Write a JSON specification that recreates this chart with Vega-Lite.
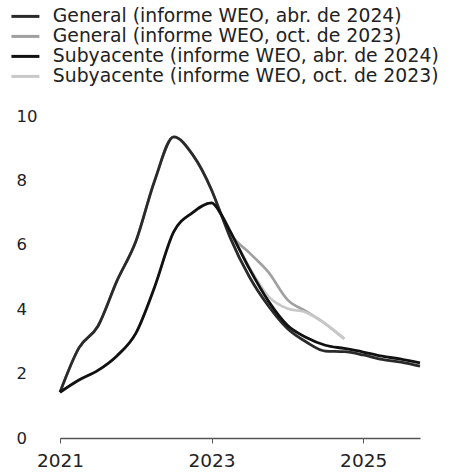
{
  "$schema": "https://vega.github.io/schema/vega-lite/v6.json",
  "width": 360,
  "height": 322,
  "autosize": {"type": "none"},
  "padding": {"left": 60, "top": 116, "right": 30, "bottom": 34},
  "background": "white",
  "config": {
    "view": {"stroke": null},
    "font": "DejaVu Sans",
    "axis": {"labelFont": "DejaVu Sans", "labelColor": "#222222"},
    "legend": {"labelFont": "DejaVu Sans", "labelColor": "#222222"}
  },
  "data": {
    "values": [
      {"t": 2021.0, "serie": "General (informe WEO, abr. de 2024)", "v": 1.42},
      {"t": 2021.25, "serie": "General (informe WEO, abr. de 2024)", "v": 2.8},
      {"t": 2021.5, "serie": "General (informe WEO, abr. de 2024)", "v": 3.47},
      {"t": 2021.75, "serie": "General (informe WEO, abr. de 2024)", "v": 4.87},
      {"t": 2022.0, "serie": "General (informe WEO, abr. de 2024)", "v": 6.1},
      {"t": 2022.25, "serie": "General (informe WEO, abr. de 2024)", "v": 8.0},
      {"t": 2022.5, "serie": "General (informe WEO, abr. de 2024)", "v": 9.35},
      {"t": 2022.75, "serie": "General (informe WEO, abr. de 2024)", "v": 8.8},
      {"t": 2023.0, "serie": "General (informe WEO, abr. de 2024)", "v": 7.7},
      {"t": 2023.125, "serie": "General (informe WEO, abr. de 2024)", "v": 6.95},
      {"t": 2023.25, "serie": "General (informe WEO, abr. de 2024)", "v": 6.2},
      {"t": 2023.5, "serie": "General (informe WEO, abr. de 2024)", "v": 5.0},
      {"t": 2023.75, "serie": "General (informe WEO, abr. de 2024)", "v": 4.1},
      {"t": 2024.0, "serie": "General (informe WEO, abr. de 2024)", "v": 3.4},
      {"t": 2024.25, "serie": "General (informe WEO, abr. de 2024)", "v": 2.98},
      {"t": 2024.5, "serie": "General (informe WEO, abr. de 2024)", "v": 2.7},
      {"t": 2024.75, "serie": "General (informe WEO, abr. de 2024)", "v": 2.68},
      {"t": 2025.0, "serie": "General (informe WEO, abr. de 2024)", "v": 2.58},
      {"t": 2025.25, "serie": "General (informe WEO, abr. de 2024)", "v": 2.44},
      {"t": 2025.5, "serie": "General (informe WEO, abr. de 2024)", "v": 2.36},
      {"t": 2025.75, "serie": "General (informe WEO, abr. de 2024)", "v": 2.23},

      {"t": 2021.0, "serie": "Subyacente (informe WEO, abr. de 2024)", "v": 1.42},
      {"t": 2021.25, "serie": "Subyacente (informe WEO, abr. de 2024)", "v": 1.8},
      {"t": 2021.5, "serie": "Subyacente (informe WEO, abr. de 2024)", "v": 2.1},
      {"t": 2021.75, "serie": "Subyacente (informe WEO, abr. de 2024)", "v": 2.55},
      {"t": 2022.0, "serie": "Subyacente (informe WEO, abr. de 2024)", "v": 3.25},
      {"t": 2022.25, "serie": "Subyacente (informe WEO, abr. de 2024)", "v": 4.7},
      {"t": 2022.5, "serie": "Subyacente (informe WEO, abr. de 2024)", "v": 6.4},
      {"t": 2022.75, "serie": "Subyacente (informe WEO, abr. de 2024)", "v": 7.0},
      {"t": 2023.0, "serie": "Subyacente (informe WEO, abr. de 2024)", "v": 7.3},
      {"t": 2023.125, "serie": "Subyacente (informe WEO, abr. de 2024)", "v": 6.95},
      {"t": 2023.25, "serie": "Subyacente (informe WEO, abr. de 2024)", "v": 6.4},
      {"t": 2023.5, "serie": "Subyacente (informe WEO, abr. de 2024)", "v": 5.25},
      {"t": 2023.75, "serie": "Subyacente (informe WEO, abr. de 2024)", "v": 4.25},
      {"t": 2024.0, "serie": "Subyacente (informe WEO, abr. de 2024)", "v": 3.5},
      {"t": 2024.25, "serie": "Subyacente (informe WEO, abr. de 2024)", "v": 3.12},
      {"t": 2024.5, "serie": "Subyacente (informe WEO, abr. de 2024)", "v": 2.88},
      {"t": 2024.75, "serie": "Subyacente (informe WEO, abr. de 2024)", "v": 2.78},
      {"t": 2025.0, "serie": "Subyacente (informe WEO, abr. de 2024)", "v": 2.67},
      {"t": 2025.25, "serie": "Subyacente (informe WEO, abr. de 2024)", "v": 2.54},
      {"t": 2025.5, "serie": "Subyacente (informe WEO, abr. de 2024)", "v": 2.45},
      {"t": 2025.75, "serie": "Subyacente (informe WEO, abr. de 2024)", "v": 2.33},

      {"t": 2021.0, "serie": "General (informe WEO, oct. de 2023)", "v": 1.42},
      {"t": 2021.25, "serie": "General (informe WEO, oct. de 2023)", "v": 2.8},
      {"t": 2021.5, "serie": "General (informe WEO, oct. de 2023)", "v": 3.47},
      {"t": 2021.75, "serie": "General (informe WEO, oct. de 2023)", "v": 4.87},
      {"t": 2022.0, "serie": "General (informe WEO, oct. de 2023)", "v": 6.1},
      {"t": 2022.25, "serie": "General (informe WEO, oct. de 2023)", "v": 8.0},
      {"t": 2022.5, "serie": "General (informe WEO, oct. de 2023)", "v": 9.35},
      {"t": 2022.75, "serie": "General (informe WEO, oct. de 2023)", "v": 8.8},
      {"t": 2023.0, "serie": "General (informe WEO, oct. de 2023)", "v": 7.7},
      {"t": 2023.125, "serie": "General (informe WEO, oct. de 2023)", "v": 6.95},
      {"t": 2023.25, "serie": "General (informe WEO, oct. de 2023)", "v": 6.35},
      {"t": 2023.5, "serie": "General (informe WEO, oct. de 2023)", "v": 5.75},
      {"t": 2023.75, "serie": "General (informe WEO, oct. de 2023)", "v": 5.15},
      {"t": 2024.0, "serie": "General (informe WEO, oct. de 2023)", "v": 4.3},
      {"t": 2024.25, "serie": "General (informe WEO, oct. de 2023)", "v": 3.93},
      {"t": 2024.5, "serie": "General (informe WEO, oct. de 2023)", "v": 3.55},
      {"t": 2024.75, "serie": "General (informe WEO, oct. de 2023)", "v": 3.08},

      {"t": 2021.0, "serie": "Subyacente (informe WEO, oct. de 2023)", "v": 1.42},
      {"t": 2021.25, "serie": "Subyacente (informe WEO, oct. de 2023)", "v": 1.8},
      {"t": 2021.5, "serie": "Subyacente (informe WEO, oct. de 2023)", "v": 2.1},
      {"t": 2021.75, "serie": "Subyacente (informe WEO, oct. de 2023)", "v": 2.55},
      {"t": 2022.0, "serie": "Subyacente (informe WEO, oct. de 2023)", "v": 3.25},
      {"t": 2022.25, "serie": "Subyacente (informe WEO, oct. de 2023)", "v": 4.7},
      {"t": 2022.5, "serie": "Subyacente (informe WEO, oct. de 2023)", "v": 6.4},
      {"t": 2022.75, "serie": "Subyacente (informe WEO, oct. de 2023)", "v": 7.0},
      {"t": 2023.0, "serie": "Subyacente (informe WEO, oct. de 2023)", "v": 7.3},
      {"t": 2023.125, "serie": "Subyacente (informe WEO, oct. de 2023)", "v": 6.95},
      {"t": 2023.25, "serie": "Subyacente (informe WEO, oct. de 2023)", "v": 6.4},
      {"t": 2023.5, "serie": "Subyacente (informe WEO, oct. de 2023)", "v": 5.3},
      {"t": 2023.75, "serie": "Subyacente (informe WEO, oct. de 2023)", "v": 4.4},
      {"t": 2024.0, "serie": "Subyacente (informe WEO, oct. de 2023)", "v": 4.02},
      {"t": 2024.25, "serie": "Subyacente (informe WEO, oct. de 2023)", "v": 3.9},
      {"t": 2024.5, "serie": "Subyacente (informe WEO, oct. de 2023)", "v": 3.55},
      {"t": 2024.75, "serie": "Subyacente (informe WEO, oct. de 2023)", "v": 3.08}
    ]
  },
  "encoding": {
    "x": {
      "field": "t",
      "type": "quantitative",
      "scale": {"domain": [2021, 2025.75], "nice": false, "zero": false},
      "axis": {
        "values": [2021, 2023, 2025],
        "format": "d",
        "title": null,
        "grid": false,
        "labelFlush": false,
        "domainColor": "#555555",
        "domainWidth": 1.5,
        "tickColor": "#555555",
        "tickSize": 5,
        "labelFontSize": 18.5,
        "labelPadding": 8
      }
    },
    "y": {
      "field": "v",
      "type": "quantitative",
      "scale": {"domain": [0, 10], "nice": false},
      "axis": {
        "values": [0, 2, 4, 6, 8, 10],
        "title": null,
        "grid": false,
        "domain": false,
        "ticks": false,
        "labelAlign": "left",
        "labelPadding": 44,
        "labelFontSize": 16.5
      }
    },
    "color": {
      "field": "serie",
      "type": "nominal",
      "scale": {
        "domain": [
          "General (informe WEO, abr. de 2024)",
          "General (informe WEO, oct. de 2023)",
          "Subyacente (informe WEO, abr. de 2024)",
          "Subyacente (informe WEO, oct. de 2023)"
        ],
        "range": ["#2a2a2a", "#a0a0a0", "#111111", "#c8c8c8"]
      },
      "legend": {
        "title": null,
        "orient": "none",
        "legendX": -44,
        "legendY": -109,
        "symbolType": "M-2,0H2",
        "symbolStrokeWidth": 3,
        "symbolSize": 196,
        "labelFontSize": 18.8,
        "labelOffset": 18,
        "labelLimit": 0,
        "rowPadding": -2
      }
    }
  },
  "layer": [
    {
      "transform": [{"filter": "indexof(datum.serie, 'oct.') >= 0"}],
      "mark": {"type": "line", "interpolate": "monotone", "strokeWidth": 2.6}
    },
    {
      "transform": [{"filter": "indexof(datum.serie, 'abr.') >= 0"}],
      "mark": {"type": "line", "interpolate": "monotone", "strokeWidth": 2.8}
    }
  ]
}
